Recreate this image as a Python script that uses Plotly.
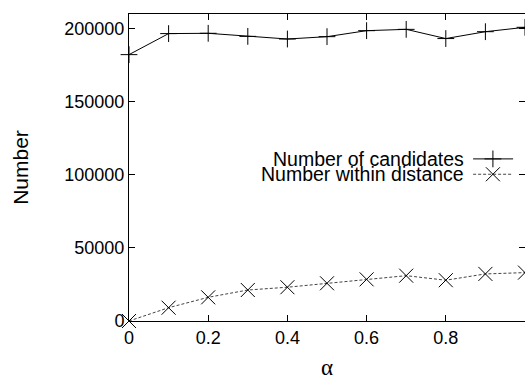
import plotly.graph_objects as go

# ---- data ----
alpha = [0.0, 0.1, 0.2, 0.3, 0.4, 0.5, 0.6, 0.7, 0.8, 0.9, 1.0]
num_candidates = [182200, 196600, 196800, 194700, 192900, 194500, 198600, 199500, 193200, 197900, 200900]
num_within = [0, 9100, 16200, 21200, 23100, 25800, 28500, 31000, 27900, 32200, 33100]
series_names = ["Number of candidates", "Number within distance"]
x_title = "α"
y_title = "Number"
x_ticks = [0, 0.2, 0.4, 0.6, 0.8]
x_tick_labels = ["0", "0.2", "0.4", "0.6", "0.8"]
y_ticks = [0, 50000, 100000, 150000, 200000]
y_tick_labels = ["0", "50000", "100000", "150000", "200000"]

W, H = 525, 375
L, R, T, B = 129, 0, 14, 54
Y_RANGE = [0, 210000]

fig = go.Figure()

fig.add_trace(go.Scatter(
    x=alpha, y=num_candidates, mode="lines+markers",
    line=dict(color="black", width=1),
    marker=dict(symbol="cross-thin", size=12, line=dict(color="black", width=1)),
    showlegend=False, cliponaxis=False,
))
fig.add_trace(go.Scatter(
    x=alpha, y=num_within, mode="lines+markers",
    line=dict(color="#444444", width=1, dash="3px,2px"),
    marker=dict(symbol="x-thin", size=14, line=dict(color="black", width=1)),
    showlegend=False, cliponaxis=False,
))

# legend keys (drawn on a hidden overlay axis in plot-fraction units)
key_x0, key_x1, key_xm = 0.869, 0.970, 0.919
row_y = [0.528, 0.478]
fig.add_trace(go.Scatter(x=[key_x0, key_x1], y=[row_y[0]] * 2, mode="lines",
                         line=dict(color="black", width=1), xaxis="x2", yaxis="y2",
                         showlegend=False, hoverinfo="skip"))
fig.add_trace(go.Scatter(x=[key_xm], y=[row_y[0]], mode="markers",
                         marker=dict(symbol="cross-thin", size=12, line=dict(color="black", width=1)),
                         xaxis="x2", yaxis="y2", showlegend=False, hoverinfo="skip"))
fig.add_trace(go.Scatter(x=[key_x0, key_x1], y=[row_y[1]] * 2, mode="lines",
                         line=dict(color="#444444", width=1, dash="3px,2px"), xaxis="x2", yaxis="y2",
                         showlegend=False, hoverinfo="skip"))
fig.add_trace(go.Scatter(x=[key_xm], y=[row_y[1]], mode="markers",
                         marker=dict(symbol="x-thin", size=14, line=dict(color="black", width=1)),
                         xaxis="x2", yaxis="y2", showlegend=False, hoverinfo="skip"))

for name, yy in zip(series_names, row_y):
    fig.add_annotation(x=0.851, y=yy, xref="x2", yref="y2", text=name, showarrow=False,
                       xanchor="right", yanchor="middle",
                       font=dict(family="Liberation Sans, Arial", size=19.5, color="black"))

# x-axis title (placed as annotation for precise position)
fig.add_annotation(x=0.5, y=-0.151, xref="paper", yref="paper", text=x_title, showarrow=False,
                   xanchor="center", yanchor="middle",
                   font=dict(family="Liberation Serif, Times New Roman", size=23, color="black"))

axis_font = dict(family="Liberation Sans, Arial", size=18, color="black")

fig.update_layout(
    width=W, height=H,
    margin=dict(l=L, r=R, t=T, b=B, pad=0, autoexpand=False),
    paper_bgcolor="white", plot_bgcolor="white",
    xaxis=dict(range=[0, 1], tickvals=x_ticks, ticktext=x_tick_labels, automargin=False,
               ticks="inside", ticklen=6, tickcolor="black", tickwidth=1,
               showline=True, linecolor="black", linewidth=1, mirror="ticks",
               showgrid=False, zeroline=False, tickfont=axis_font),
    yaxis=dict(range=Y_RANGE, tickvals=y_ticks, ticktext=y_tick_labels, automargin=False,
               ticks="inside", ticklen=6, tickcolor="black", tickwidth=1,
               showline=True, linecolor="black", linewidth=1, mirror=False,
               showgrid=False, zeroline=False, tickfont=axis_font,
               title=dict(text=y_title, font=dict(family="Liberation Sans, Arial", size=21, color="black"),
                          standoff=29)),
    # right-side mirrored ticks without a border line (border is off-canvas in the reference)
    yaxis3=dict(range=Y_RANGE, tickvals=y_ticks, overlaying="y", side="right", automargin=False,
                ticks="inside", ticklen=6, tickcolor="black", tickwidth=1,
                showline=False, showticklabels=False, showgrid=False, zeroline=False,
                fixedrange=True),
    xaxis2=dict(range=[0, 1], overlaying="x", visible=False, fixedrange=True),
    yaxis2=dict(range=[0, 1], overlaying="y", visible=False, fixedrange=True),
)

# dummy invisible trace to activate yaxis3
fig.add_trace(go.Scatter(x=[alpha[0]], y=[num_within[0]], yaxis="y3", mode="markers",
                         marker=dict(opacity=0), showlegend=False, hoverinfo="skip"))

fig.write_html(
    "out.html",
    config={"responsive": False, "displayModeBar": False},
    post_script="document.body.style.margin='0';document.body.style.overflow='hidden';",
)
